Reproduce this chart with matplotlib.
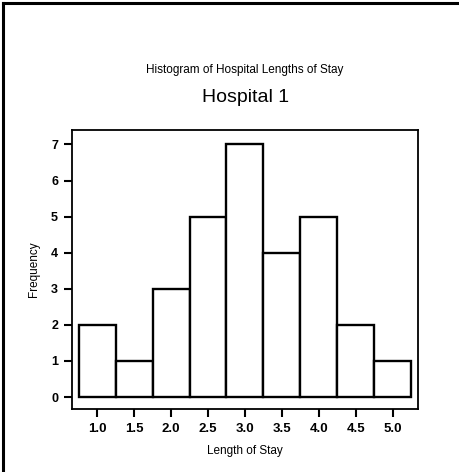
import matplotlib.pyplot as plt
from matplotlib.lines import Line2D

# ---------------------------------------------------------------------------
# Data
# ---------------------------------------------------------------------------

bin_centers = [1.0, 1.5, 2.0, 2.5, 3.0, 3.5, 4.0, 4.5, 5.0]
frequencies = [2, 1, 3, 5, 7, 4, 5, 2, 1]
tick_labels = ["1.0", "1.5", "2.0", "2.5", "3.0", "3.5", "4.0", "4.5", "5.0"]
y_ticks = [0, 1, 2, 3, 4, 5, 6, 7]
bin_width = 0.5

FONT = ["Liberation Sans Narrow", "Liberation Sans", "DejaVu Sans"]
plt.rcParams["font.family"] = FONT

# ---------------------------------------------------------------------------
# Plot
# ---------------------------------------------------------------------------

fig = plt.figure(figsize=(4.6, 4.72), dpi=100)
ax = fig.add_axes([0.1565, 0.1335, 0.752, 0.591])

ax.bar(bin_centers, frequencies, width=bin_width, color="white",
       edgecolor="black", linewidth=1.7)

ax.set_xlim(0.66, 5.34)
ax.set_ylim(-0.33, 7.4)
ax.set_xticks(bin_centers)
ax.set_xticklabels(tick_labels, fontweight="bold")
ax.set_yticks(y_ticks)
ax.set_yticklabels([str(v) for v in y_ticks], fontweight="bold")
ax.tick_params(direction="out", length=6, width=1.5, pad=4)
ax.tick_params(axis="x", labelsize=9.5)
ax.tick_params(axis="y", labelsize=9)
for s in ax.spines.values():
    s.set_linewidth(1.3)

ax.set_xlabel("Length of Stay", fontsize=8.5, labelpad=7)
ax.set_ylabel("Frequency", fontsize=8.5, labelpad=8)

fig.text(0.533, 1 - 70 / 472, "Histogram of Hospital Lengths of Stay",
         ha="center", va="center", fontsize=8.5)
fig.text(0.533, 1 - 97 / 472, "Hospital 1", ha="center", va="center",
         fontsize=14)

# outer frame (top and left only)
fig.add_artist(Line2D([3 / 460, 1], [1 - 3 / 472, 1 - 3 / 472],
                      transform=fig.transFigure, color="black", linewidth=2.2))
fig.add_artist(Line2D([3 / 460, 3 / 460], [0, 1 - 3 / 472],
                      transform=fig.transFigure, color="black", linewidth=2.2))

plt.savefig("out.png", dpi=100)
